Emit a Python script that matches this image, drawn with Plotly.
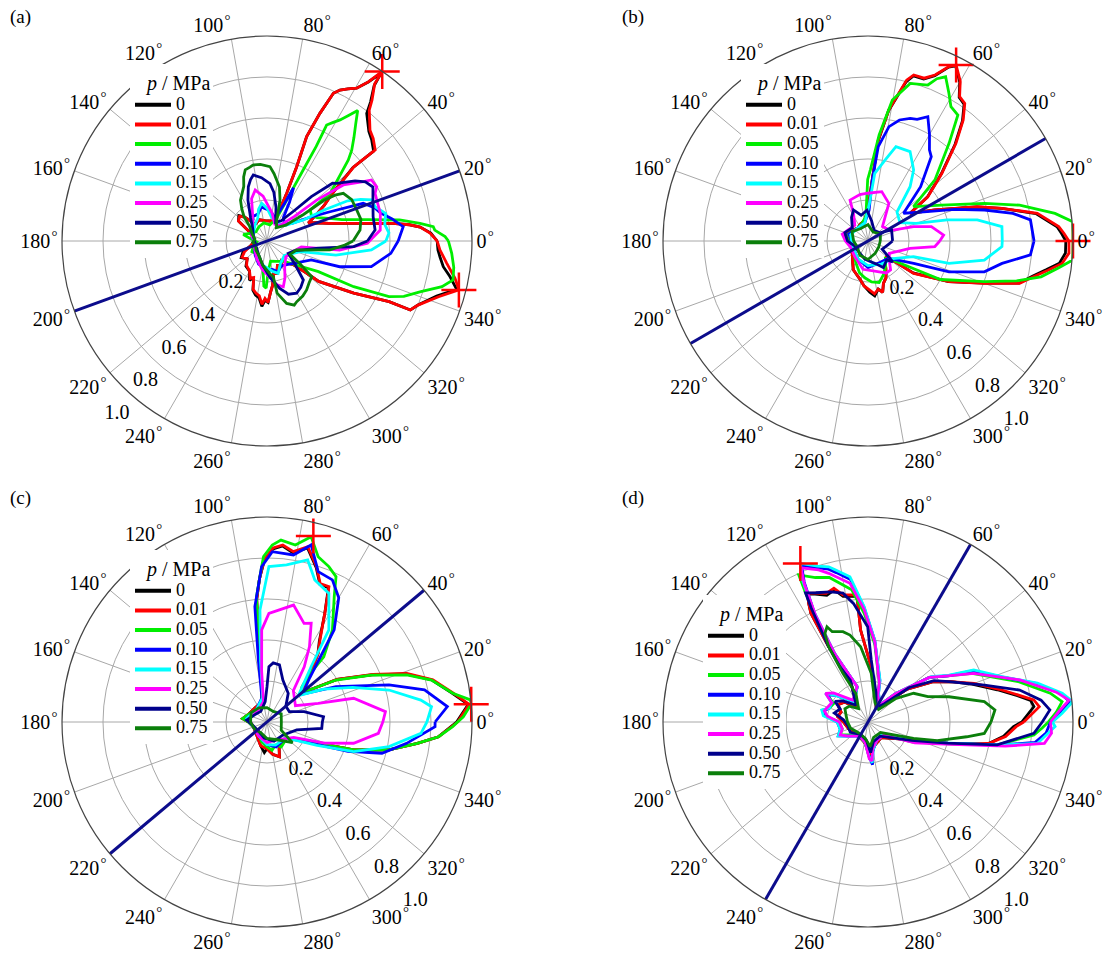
import plotly.graph_objects as go

FIG_W, FIG_H = 1120, 961

PRESSURES = ["0", "0.01", "0.05", "0.10", "0.15", "0.25", "0.50", "0.75"]
COLORS = ["#000000", "#ff0000", "#00ee00", "#0000ff", "#00ffff", "#ff00ff", "#00008b", "#0b7f0b"]

ANGLE_TICKS = list(range(0, 360, 20))
RADIAL_TICKS = [0.2, 0.4, 0.6, 0.8, 1.0]
RADIAL_LABELS = ["0.2", "0.4", "0.6", "0.8", "1.0"]

# ---------------- panel (a): (theta in degrees, normalised r) ----------------
A_0 = [(0,0.83),(2.8,0.80),(5.2,0.75),(6.5,0.70),(8,0.62),(9.3,0.534),(12,0.415),(16,0.313),(20,0.26),(23.5,0.22),(28.8,0.28),(32,0.33),(36,0.39),(40.5,0.55),(40.1,0.68),(44,0.71),(47.1,0.73),(52,0.79),(53.3,0.845),(55.4,0.92),(55.8,0.99),(57.5,0.92),(59.6,0.864),(62,0.84),(64.2,0.818),(65.8,0.79),(67.5,0.674),(69.2,0.545),(68.2,0.39),(67.6,0.252),(68,0.13),(75,0.10),(95,0.10),(110,0.11),(125,0.10),(133,0.16),(138,0.185),(145,0.17),(152,0.10),(165,0.07),(180,0.06),(195,0.08),(205,0.13),(213,0.15),(222,0.13),(230,0.16),(240,0.17),(246,0.21),(250,0.19),(254,0.25),(258,0.27),(262,0.28),(265.5,0.32),(268,0.29),(271,0.30),(274,0.25),(277,0.22),(282,0.16),(287,0.165),(293,0.13),(300,0.14),(307,0.12),(313,0.15),(318,0.17),(321,0.25),(322,0.32),(329,0.494),(333.6,0.665),(334.3,0.776),(337,0.80),(342,0.87),(345.7,0.955),(349,0.909),(351.7,0.869),(354.8,0.847),(357,0.835),(360,0.83)]
A_001 = [(0,0.83),(2.8,0.796),(5.2,0.75),(6.5,0.70),(8,0.62),(9.3,0.534),(12,0.415),(16,0.313),(20,0.26),(23.5,0.22),(28.8,0.284),(32,0.33),(36,0.395),(40.5,0.557),(40.1,0.69),(44,0.72),(47.1,0.738),(52,0.81),(53.3,0.857),(55.6,0.93),(55.8,1.0),(57.5,0.92),(59.6,0.864),(62,0.84),(64.2,0.818),(65.8,0.79),(67.5,0.674),(69.2,0.545),(68.2,0.39),(67.6,0.252),(68,0.13),(75,0.10),(95,0.10),(110,0.11),(125,0.10),(133,0.16),(138,0.18),(145,0.17),(152,0.10),(165,0.07),(180,0.06),(195,0.08),(205,0.12),(213,0.145),(222,0.13),(230,0.155),(240,0.17),(246,0.20),(250,0.19),(254,0.245),(258,0.26),(262,0.27),(265.5,0.31),(268,0.28),(271,0.30),(274,0.25),(277,0.22),(282,0.16),(287,0.165),(293,0.13),(300,0.14),(307,0.12),(313,0.15),(318,0.17),(321,0.25),(322,0.32),(329,0.494),(333.6,0.665),(334.3,0.776),(337,0.80),(342,0.88),(345.7,0.966),(348.8,0.935),(353,0.883),(357,0.845),(360,0.83)]
A_005 = [(0,0.885),(1.4,0.869),(3.7,0.82),(4.9,0.814),(6.6,0.751),(9,0.655),(12,0.50),(16,0.38),(20,0.322),(25,0.27),(30,0.25),(35.8,0.26),(37,0.386),(44.9,0.56),(47,0.606),(50,0.66),(53,0.72),(55.2,0.775),(57,0.73),(58.9,0.69),(61,0.66),(62.8,0.636),(62.5,0.52),(63,0.39),(64.3,0.22),(67,0.12),(80,0.08),(100,0.09),(120,0.08),(140,0.07),(155,0.09),(165,0.12),(172,0.08),(185,0.05),(200,0.07),(215,0.09),(230,0.08),(245,0.10),(255,0.12),(262,0.14),(266,0.22),(269,0.23),(272,0.15),(280,0.10),(295,0.11),(310,0.13),(320,0.18),(329.2,0.292),(332.2,0.478),(335.5,0.654),(338,0.72),(341.8,0.79),(345.4,0.882),(348.2,0.927),(352,0.92),(356.2,0.903),(360,0.885)]
A_010 = [(0,0.64),(6,0.668),(10,0.62),(14,0.57),(17,0.55),(21.4,0.504),(24.9,0.339),(28.7,0.246),(35,0.15),(45,0.12),(55,0.14),(60,0.22),(63.5,0.29),(65,0.20),(70,0.12),(85,0.15),(95,0.16),(99,0.17),(108,0.14),(120,0.137),(135,0.10),(150,0.09),(170,0.07),(190,0.06),(210,0.07),(230,0.09),(250,0.12),(262,0.13),(270,0.15),(280,0.14),(290,0.16),(300,0.14),(310,0.15),(320,0.17),(336.8,0.235),(340.5,0.376),(346.2,0.524),(354.3,0.607),(360,0.64)]
A_015 = [(0,0.58),(3.8,0.596),(8,0.58),(13.1,0.594),(17.6,0.553),(21.4,0.55),(24,0.50),(26.5,0.44),(28.5,0.32),(30,0.205),(40,0.12),(60,0.10),(80,0.12),(90,0.16),(98,0.186),(105,0.16),(112,0.12),(125,0.10),(145,0.08),(170,0.07),(200,0.06),(230,0.08),(260,0.12),(280,0.15),(289,0.167),(300,0.13),(320,0.11),(342.4,0.172),(348.5,0.343),(355.1,0.511),(360,0.58)]
A_025 = [(0,0.50),(5.5,0.555),(13.7,0.569),(23.8,0.576),(26.3,0.597),(30.3,0.59),(31.6,0.552),(36.3,0.462),(39.5,0.314),(42,0.18),(50,0.10),(65,0.09),(80,0.14),(95,0.22),(103,0.255),(110,0.22),(118,0.15),(135,0.10),(160,0.08),(180,0.06),(210,0.07),(240,0.10),(260,0.14),(275,0.18),(283,0.22),(289.6,0.237),(296,0.20),(305,0.15),(320,0.12),(340,0.14),(350,0.17),(352.9,0.357),(358.7,0.49),(360,0.50)]
A_050 = [(0,0.49),(5.8,0.53),(12.9,0.531),(20,0.55),(27,0.58),(31,0.56),(34.3,0.52),(39.6,0.441),(41.4,0.426),(45,0.306),(48,0.20),(55,0.12),(65,0.10),(75,0.17),(82,0.24),(87,0.28),(95,0.31),(101.7,0.329),(105,0.31),(109,0.28),(115,0.22),(125,0.14),(140,0.09),(160,0.07),(180,0.06),(210,0.06),(240,0.08),(260,0.12),(275,0.18),(285,0.24),(292,0.28),(299.6,0.293),(306,0.28),(313,0.26),(320,0.18),(330,0.12),(340,0.14),(352,0.253),(356.3,0.424),(360,0.49)]
A_075 = [(0,0.42),(6.7,0.457),(13,0.47),(19.1,0.463),(26,0.46),(32,0.439),(34,0.40),(35.5,0.34),(36,0.22),(40,0.12),(55,0.08),(65,0.113),(72.4,0.21),(77,0.27),(81,0.301),(84,0.33),(87.7,0.363),(95,0.375),(100.5,0.377),(103,0.37),(107,0.363),(110,0.333),(113,0.29),(118,0.26),(122.9,0.238),(128,0.20),(133.4,0.163),(140,0.11),(155,0.08),(170,0.06),(185,0.07),(200,0.06),(220,0.07),(240,0.08),(260,0.12),(275,0.16),(280,0.177),(281,0.259),(287.5,0.319),(293,0.34),(296,0.33),(303,0.32),(309,0.307),(315,0.29),(321.4,0.279),(325,0.20),(330,0.13),(343,0.15),(352,0.31),(357,0.38),(360,0.42)]

# ---------------- panel (b) ----------------
B_0 = [(0,0.965),(2.2,0.945),(4.3,0.925),(9.3,0.83),(13.7,0.67),(17.4,0.555),(25,0.36),(33.3,0.246),(36.5,0.36),(42.5,0.485),(48,0.635),(51.8,0.745),(54.9,0.815),(57.6,0.83),(60,0.895),(63.4,0.955),(65.1,0.935),(68,0.87),(71,0.835),(74.6,0.835),(76.5,0.80),(81,0.645),(84.2,0.49),(86.6,0.265),(90,0.15),(100,0.10),(115,0.09),(130,0.08),(150,0.10),(165,0.12),(175,0.10),(190,0.08),(205,0.09),(220,0.10),(235,0.13),(243,0.158),(250,0.17),(258,0.19),(265,0.22),(272,0.25),(277,0.27),(282,0.24),(286,0.26),(290,0.22),(296,0.20),(303,0.16),(310,0.13),(318,0.12),(322,0.151),(324.7,0.27),(333.3,0.44),(340,0.60),(344.4,0.765),(347.9,0.82),(350.8,0.88),(353.4,0.94),(356.5,0.965),(360,0.965)]
B_001 = [(0,0.98),(2.2,0.957),(4.3,0.933),(9.3,0.837),(13.7,0.673),(17.4,0.559),(25,0.36),(33.3,0.246),(36.5,0.363),(42.5,0.489),(48,0.641),(51.8,0.751),(54.9,0.821),(57.6,0.834),(60,0.90),(63.4,0.96),(65.1,0.938),(68,0.873),(71,0.84),(74.6,0.84),(76.5,0.807),(81,0.647),(84.2,0.495),(86.6,0.265),(90,0.15),(100,0.10),(115,0.09),(130,0.08),(150,0.10),(165,0.12),(175,0.10),(190,0.08),(205,0.09),(220,0.10),(235,0.13),(243,0.158),(250,0.17),(258,0.19),(265,0.22),(272,0.24),(277,0.26),(282,0.24),(286,0.26),(290,0.22),(296,0.20),(303,0.16),(310,0.13),(318,0.12),(322,0.151),(324.7,0.273),(333.3,0.442),(340,0.604),(344.4,0.768),(347.9,0.828),(350.8,0.89),(353.4,0.953),(356.5,0.982),(360,0.98)]
B_005 = [(0,1.0),(5.4,1.003),(8.4,0.922),(13.3,0.76),(17.9,0.597),(26,0.40),(37,0.278),(42.4,0.442),(50.3,0.619),(54.5,0.755),(58.3,0.77),(61.3,0.822),(64.7,0.886),(67,0.86),(69,0.815),(75,0.796),(80.2,0.698),(84,0.52),(88,0.35),(90.3,0.30),(95,0.12),(110,0.09),(130,0.08),(150,0.09),(165,0.11),(180,0.09),(200,0.08),(220,0.09),(240,0.12),(255,0.16),(265,0.18),(275,0.20),(285,0.21),(295,0.18),(305,0.15),(315,0.12),(323,0.16),(332,0.40),(340.7,0.60),(345,0.75),(348.3,0.862),(352,0.94),(354.7,1.003),(360,1.0)]
B_010 = [(0,0.81),(7.4,0.799),(10.8,0.719),(14.9,0.588),(20,0.45),(30,0.28),(38,0.22),(45.9,0.369),(53.1,0.514),(56,0.536),(60,0.60),(64.3,0.673),(68,0.64),(71,0.633),(75.4,0.61),(79.6,0.567),(83.8,0.463),(86,0.30),(88,0.15),(100,0.09),(130,0.08),(160,0.10),(180,0.08),(210,0.08),(240,0.10),(270,0.13),(300,0.12),(320,0.13),(333.9,0.248),(339.2,0.423),(345.2,0.587),(350.5,0.663),(355.1,0.795),(360,0.81)]
B_015 = [(0,0.655),(6.1,0.657),(10.9,0.543),(15,0.40),(20,0.25),(30,0.18),(45,0.20),(52.2,0.335),(57.3,0.412),(64.8,0.482),(73.5,0.48),(78,0.404),(84.3,0.332),(88,0.18),(100,0.09),(130,0.08),(160,0.09),(200,0.08),(240,0.10),(270,0.12),(300,0.13),(325,0.15),(341,0.235),(344.6,0.41),(350.7,0.575),(357.6,0.654),(360,0.655)]
B_025 = [(0,0.35),(4.5,0.37),(12.7,0.317),(17.4,0.233),(25,0.12),(45,0.10),(61,0.21),(74.4,0.25),(90.5,0.233),(100,0.23),(113.7,0.218),(118,0.15),(130,0.10),(150,0.11),(165,0.13),(180,0.11),(200,0.09),(230,0.10),(260,0.14),(290,0.16),(300,0.18),(308,0.179),(318,0.14),(330,0.12),(350.1,0.208),(355.1,0.327),(360,0.35)]
B_050 = [(0,0.12),(10.6,0.12),(25,0.127),(35,0.07),(60,0.06),(80,0.10),(92,0.15),(105,0.13),(115,0.167),(125,0.14),(140,0.10),(160,0.12),(180,0.10),(200,0.07),(230,0.07),(260,0.09),(290,0.12),(300,0.15),(314.5,0.13),(320,0.158),(330,0.08),(350,0.10),(360,0.12)]
B_075 = [(0,0.06),(30,0.07),(60,0.05),(90,0.08),(120,0.07),(150,0.09),(180,0.07),(210,0.06),(240,0.08),(270,0.09),(300,0.07),(330,0.06),(360,0.06)]

# ---------------- panel (c) ----------------
C_0 = [(0,0.925),(5,0.985),(8.8,0.915),(14.3,0.83),(19.2,0.715),(24.2,0.56),(31.3,0.40),(40,0.22),(47,0.30),(53.3,0.415),(57.1,0.47),(62,0.60),(65.4,0.72),(69,0.72),(72.3,0.79),(76.9,0.872),(81.2,0.835),(84.9,0.862),(88,0.845),(91,0.785),(93,0.70),(94.8,0.60),(96,0.40),(98,0.20),(105,0.10),(130,0.09),(160,0.10),(172,0.12),(180,0.09),(200,0.07),(230,0.08),(255,0.12),(265,0.15),(270,0.13),(280,0.16),(289.7,0.18),(295,0.14),(310,0.12),(320,0.12),(337.5,0.27),(342.1,0.444),(347.1,0.61),(351.9,0.741),(355.1,0.84),(360,0.925)]
C_001 = [(0,0.93),(5,0.99),(8.8,0.92),(14.3,0.835),(19.2,0.722),(24.2,0.565),(31.3,0.40),(40,0.22),(47,0.30),(53.3,0.418),(57.1,0.476),(62,0.60),(65.4,0.726),(69,0.724),(72.3,0.795),(76.9,0.878),(81.2,0.841),(84.9,0.867),(88,0.85),(91,0.79),(93,0.70),(94.8,0.60),(96,0.40),(98,0.20),(105,0.10),(130,0.09),(160,0.10),(172,0.12),(180,0.09),(200,0.07),(230,0.08),(255,0.12),(270,0.13),(280,0.16),(289.7,0.18),(295,0.14),(310,0.12),(320,0.12),(337.5,0.27),(342.1,0.444),(347.1,0.61),(351.9,0.741),(355.1,0.84),(360,0.93)]
C_005 = [(0,0.93),(1.5,0.958),(5,1.0),(6.2,0.998),(8.8,0.917),(14.3,0.828),(18.6,0.719),(24.2,0.558),(31.3,0.394),(40.5,0.216),(45,0.24),(48.1,0.297),(49,0.422),(54.6,0.551),(61.8,0.694),(64.6,0.785),(68.3,0.816),(72.8,0.844),(76.6,0.929),(80.9,0.874),(85.6,0.89),(88.3,0.864),(91.2,0.807),(92.8,0.71),(94.8,0.613),(96,0.40),(98,0.20),(105,0.10),(130,0.08),(160,0.10),(172,0.12),(180,0.09),(200,0.07),(230,0.07),(255,0.10),(270,0.12),(280,0.14),(290,0.12),(300,0.14),(310,0.13),(320,0.12),(337.5,0.271),(342.1,0.444),(347.1,0.61),(351.9,0.741),(355.1,0.84),(358.6,0.906),(360,0.93)]
C_010 = [(0,0.82),(4.9,0.883),(11.5,0.784),(16.9,0.622),(27.1,0.378),(38,0.22),(46,0.30),(53.9,0.556),(60,0.70),(65.3,0.763),(71.2,0.775),(76,0.89),(81,0.825),(88.2,0.831),(92,0.758),(96,0.566),(98,0.30),(102,0.12),(130,0.08),(170,0.10),(200,0.07),(240,0.08),(270,0.11),(290,0.13),(320,0.12),(335,0.25),(340,0.42),(344.8,0.581),(351.3,0.689),(358.4,0.82),(360,0.82)]
C_015 = [(0,0.78),(5.3,0.806),(8.1,0.758),(14.7,0.615),(22,0.45),(30,0.32),(40,0.20),(51.4,0.345),(56.1,0.541),(64.3,0.696),(71.4,0.731),(75.9,0.815),(82.9,0.772),(89.3,0.758),(93.6,0.547),(96,0.30),(100,0.12),(130,0.08),(170,0.10),(200,0.07),(240,0.08),(270,0.11),(290,0.12),(320,0.12),(335,0.27),(341.1,0.447),(348.6,0.607),(355.8,0.753),(360,0.78)]
C_025 = [(0,0.565),(5,0.58),(15.3,0.438),(20,0.266),(30,0.16),(50,0.20),(56,0.325),(60.6,0.422),(65.9,0.528),(69.4,0.514),(77.2,0.585),(83.7,0.55),(89,0.53),(93.3,0.45),(96,0.25),(100,0.10),(130,0.07),(170,0.09),(200,0.07),(240,0.08),(270,0.10),(300,0.10),(330,0.15),(340,0.30),(346.2,0.435),(354.2,0.546),(360,0.565)]
C_050 = [(0,0.27),(5.4,0.277),(15.5,0.188),(25,0.12),(40,0.12),(53.5,0.174),(69.3,0.219),(77.7,0.285),(84,0.29),(88,0.27),(90,0.172),(95,0.10),(120,0.06),(150,0.07),(175,0.10),(185,0.08),(220,0.06),(260,0.08),(290,0.10),(320,0.10),(345,0.15),(353.4,0.269),(360,0.27)]
C_075 = [(0,0.07),(30,0.08),(60,0.06),(90,0.07),(120,0.08),(150,0.09),(180,0.08),(210,0.07),(240,0.06),(270,0.08),(300,0.10),(321,0.16),(330,0.08),(360,0.07)]

# ---------------- panel (d) ----------------
D_0 = [(0,0.75),(5.3,0.813),(7.6,0.80),(10,0.74),(14,0.65),(20,0.54),(26,0.45),(32,0.37),(40,0.25),(48,0.12),(60,0.08),(75,0.14),(86.7,0.27),(94.6,0.45),(95,0.615),(101.2,0.625),(104.3,0.665),(108,0.65),(112.5,0.675),(115.2,0.69),(116.5,0.65),(117.7,0.599),(117.6,0.414),(113,0.223),(125,0.09),(140,0.15),(150,0.17),(160,0.14),(170,0.15),(180,0.12),(200,0.10),(230,0.08),(260,0.10),(275,0.17),(285,0.12),(310,0.10),(337,0.22),(345,0.40),(350,0.60),(354,0.665),(358.2,0.71),(360,0.75)]
D_001 = [(0,0.76),(5.1,0.839),(7.6,0.816),(10,0.75),(14,0.66),(20,0.55),(26,0.45),(32,0.37),(40,0.25),(48,0.12),(60,0.08),(75,0.14),(86.7,0.27),(94.6,0.45),(95,0.622),(101.2,0.632),(104.3,0.673),(108,0.66),(112.5,0.68),(115.2,0.694),(116.5,0.65),(117.7,0.599),(117.6,0.414),(113,0.223),(125,0.09),(140,0.15),(150,0.17),(160,0.14),(170,0.15),(180,0.12),(200,0.10),(230,0.08),(260,0.10),(275,0.16),(285,0.12),(310,0.10),(337,0.22),(345,0.40),(350,0.60),(354,0.675),(358.2,0.723),(360,0.76)]
D_005 = [(0,0.88),(3,0.92),(6,0.952),(9,0.90),(15,0.76),(25,0.56),(30,0.45),(36,0.37),(46,0.19),(55,0.10),(70,0.14),(74,0.20),(85,0.38),(92,0.53),(97,0.65),(105,0.73),(110,0.75),(115.2,0.793),(115.8,0.70),(116.5,0.57),(116,0.36),(107,0.18),(125,0.12),(140,0.21),(146,0.24),(152,0.19),(160,0.20),(165.5,0.23),(172,0.21),(180,0.14),(195,0.13),(205,0.15),(215,0.11),(240,0.08),(262,0.10),(272,0.17),(276,0.19),(280,0.13),(295,0.10),(320,0.10),(336,0.24),(345,0.41),(350,0.64),(355.5,0.812),(358,0.85),(360,0.88)]
D_010 = [(0,0.89),(3,0.94),(5.7,0.99),(8.4,0.95),(13,0.84),(19,0.68),(26,0.57),(30,0.45),(36,0.37),(46,0.19),(55,0.10),(70,0.15),(74,0.21),(85.3,0.40),(92,0.56),(97,0.70),(102,0.745),(104.5,0.77),(108,0.79),(113,0.83),(114.5,0.75),(116.2,0.59),(116,0.37),(107,0.18),(125,0.12),(140,0.20),(146,0.24),(152,0.20),(160,0.20),(165.5,0.22),(172,0.21),(180,0.15),(195,0.14),(205,0.16),(215,0.12),(240,0.08),(262,0.10),(272,0.17),(276,0.21),(280,0.14),(295,0.10),(320,0.09),(336.6,0.24),(345.3,0.41),(350.3,0.66),(353,0.82),(356.4,0.87),(360,0.89)]
D_015 = [(0,0.90),(2.6,0.948),(5.7,1.004),(8.4,0.958),(12.9,0.848),(18.7,0.69),(26.2,0.575),(30.1,0.457),(35.6,0.38),(45.8,0.195),(55,0.10),(70,0.15),(74,0.213),(85.3,0.401),(91.9,0.563),(97.1,0.714),(102,0.758),(104.2,0.781),(108,0.80),(113.1,0.841),(114.8,0.76),(116.2,0.59),(116,0.37),(107,0.18),(125,0.12),(140,0.20),(146,0.25),(152,0.20),(160,0.20),(165.5,0.233),(172,0.22),(180,0.15),(195,0.14),(205,0.16),(215,0.12),(240,0.08),(262,0.10),(272,0.17),(276,0.20),(280,0.14),(295,0.10),(320,0.09),(336.6,0.242),(345.3,0.408),(350.3,0.663),(352.8,0.833),(356.4,0.88),(358.6,0.913),(360,0.90)]
D_025 = [(0,0.89),(3,0.93),(6.2,0.986),(9,0.93),(15.5,0.768),(24.7,0.568),(30,0.45),(36,0.37),(46,0.19),(55,0.10),(70,0.14),(74,0.20),(85,0.39),(92,0.55),(97.4,0.682),(104.8,0.75),(108,0.78),(113.5,0.82),(114.8,0.74),(116.2,0.58),(116,0.37),(107,0.18),(125,0.13),(140,0.22),(146,0.25),(152,0.20),(160,0.21),(165.5,0.22),(172,0.20),(180,0.14),(195,0.13),(205,0.15),(215,0.12),(240,0.08),(262,0.10),(272,0.18),(276,0.19),(280,0.13),(295,0.10),(320,0.10),(336,0.25),(345,0.42),(350,0.68),(353.1,0.867),(356.5,0.897),(360,0.89)]
D_050 = [(0,0.85),(3.8,0.889),(7.2,0.851),(11.9,0.756),(17.6,0.596),(26.5,0.441),(32,0.38),(40,0.26),(48,0.12),(60,0.08),(75,0.15),(87,0.303),(90.2,0.465),(97,0.583),(101,0.64),(106,0.66),(112,0.68),(115.8,0.70),(116.5,0.62),(117.6,0.42),(117,0.30),(113,0.22),(125,0.10),(140,0.16),(148,0.19),(155,0.15),(165,0.17),(175,0.12),(190,0.10),(210,0.10),(240,0.07),(265,0.09),(275,0.15),(285,0.10),(310,0.09),(337,0.23),(345,0.40),(350,0.64),(356.1,0.811),(360,0.85)]
D_075 = [(0,0.60),(5.4,0.622),(9.9,0.576),(17.3,0.414),(22.9,0.317),(32.2,0.263),(40,0.18),(50,0.08),(70,0.10),(86.2,0.238),(95.6,0.369),(101.7,0.433),(105.5,0.457),(111.6,0.474),(113.3,0.506),(116,0.48),(117.6,0.414),(117.3,0.267),(113,0.15),(125,0.08),(140,0.12),(150,0.13),(165,0.11),(180,0.10),(200,0.09),(230,0.07),(260,0.08),(275,0.12),(290,0.08),(320,0.08),(340.3,0.236),(345,0.35),(351.5,0.487),(354.4,0.57),(360,0.60)]

# red crosses at the lobe maxima
PEAK_THETA = [[55.8, 345.7], [63.4, 0.0], [76.0, 5.0], [113.1, 5.7]]
PEAK_R = [[1.0, 0.966], [0.96, 1.0], [0.935, 1.0], [0.841, 1.004]]

# direction of the reference line drawn across each rose
LINE_ANGLE = [20, 30, 40, 60]

PANEL_LETTERS = ["(a)", "(b)", "(c)", "(d)"]
PANEL_SERIES = [
    [A_0, A_001, A_005, A_010, A_015, A_025, A_050, A_075],
    [B_0, B_001, B_005, B_010, B_015, B_025, B_050, B_075],
    [C_0, C_001, C_005, C_010, C_015, C_025, C_050, C_075],
    [D_0, D_001, D_005, D_010, D_015, D_025, D_050, D_075],
]

# ---------------- layout geometry (pixels) ----------------
CENTERS = [(267, 241), (868, 241), (267, 722), (868, 722)]
RADIUS = 205
RADIAL_LABEL_ANGLE = [229, 311, 311, 311]
# radial tick labels sit just outside their circles: they are drawn by a
# label-only polar frame, slightly enlarged and nudged from the main one
LABEL_FRAME_SCALE = 1.06
LABEL_FRAME_SHIFT = [(13, 11), (26, 3), (26, 3), (26, 3)]
LEGEND_TOPLEFT = [(130, 64), (741, 64), (130, 550), (703, 595)]
LETTER_POS = [(20, 17), (633, 17), (20, 498), (633, 498)]

FONT = "Liberation Serif"
DEGREE = '<span style="font-size:15px;baseline-shift:45%">&#8202;°</span>'


def px_x(x):
    return x / FIG_W


def px_y(y):
    return 1 - y / FIG_H


def norm180(a):
    return (a + 180) % 360 - 180


def domain_for(cx, cy, rad):
    return dict(x=[px_x(cx - rad), px_x(cx + rad)], y=[px_y(cy + rad), px_y(cy - rad)])


fig = go.Figure()
layout = {}
tick_font = dict(family=FONT, size=20, color="black")

for i in range(4):
    sid = "polar" if i == 0 else f"polar{i + 1}"
    lab_sid = f"polar{i + 5}"
    lid = "legend" if i == 0 else f"legend{i + 1}"

    for name, color, pts in zip(PRESSURES, COLORS, PANEL_SERIES[i]):
        fig.add_trace(go.Scatterpolar(
            theta=[p[0] for p in pts], r=[p[1] for p in pts],
            mode="lines", line=dict(color=color, width=2.8),
            showlegend=False, subplot=sid,
        ))

    # legend keys, drawn with a heavier stroke than the curves
    for name, color in zip(PRESSURES, COLORS):
        fig.add_trace(go.Scatterpolar(
            theta=[None], r=[None], mode="lines",
            line=dict(color=color, width=4),
            name=f'<span style="font-size:18px">{name}</span>',
            subplot=sid, legend=lid, hoverinfo="skip",
        ))

    a = LINE_ANGLE[i]
    fig.add_trace(go.Scatterpolar(
        theta=[a, a + 180], r=[1, 1], mode="lines",
        line=dict(color="#0c0c8c", width=3), showlegend=False, subplot=sid,
    ))
    fig.add_trace(go.Scatterpolar(
        theta=PEAK_THETA[i], r=PEAK_R[i], mode="markers",
        marker=dict(symbol="cross-thin", size=25, color="red",
                    line=dict(color="red", width=2.5)),
        showlegend=False, subplot=sid, cliponaxis=False,
    ))
    # placeholder so the label-only frame is created
    fig.add_trace(go.Scatterpolar(
        theta=[0], r=[0], mode="markers", marker=dict(size=1, color="rgba(0,0,0,0)"),
        showlegend=False, hoverinfo="skip", subplot=lab_sid,
    ))

    cx, cy = CENTERS[i]
    ra = RADIAL_LABEL_ANGLE[i]
    layout[sid] = dict(
        domain=domain_for(cx, cy, RADIUS),
        bgcolor="white",
        angularaxis=dict(
            rotation=0, direction="counterclockwise",
            tickmode="array", tickvals=ANGLE_TICKS,
            ticktext=[f"{v}{DEGREE}" for v in ANGLE_TICKS],
            showgrid=True, gridcolor="#a8a8a8", gridwidth=1,
            showline=True, linecolor="#444444", linewidth=1.2,
            ticks="", tickfont=tick_font,
        ),
        radialaxis=dict(
            range=[0, 1], tickmode="array", tickvals=RADIAL_TICKS,
            showticklabels=False, angle=ra,
            showline=False, showgrid=True, gridcolor="#a8a8a8", gridwidth=1,
            ticks="",
        ),
    )

    sx, sy = LABEL_FRAME_SHIFT[i]
    layout[lab_sid] = dict(
        domain=domain_for(cx + sx, cy + sy, RADIUS * LABEL_FRAME_SCALE),
        bgcolor="rgba(0,0,0,0)",
        angularaxis=dict(visible=False, showgrid=False, showline=False,
                         showticklabels=False, ticks=""),
        radialaxis=dict(
            range=[0, 1], tickmode="array", tickvals=RADIAL_TICKS,
            ticktext=RADIAL_LABELS, angle=ra, tickangle=norm180(ra),
            showline=False, showgrid=False, ticks="", tickfont=tick_font,
        ),
    )

    lx, ly = LEGEND_TOPLEFT[i]
    layout[lid] = dict(
        x=px_x(lx), y=px_y(ly), xanchor="left", yanchor="top",
        bgcolor="white", borderwidth=0, itemwidth=36,
        font=dict(family=FONT, size=12.8, color="black"),
        title=dict(text="&nbsp;&nbsp;&nbsp;<i>p</i> / MPa",
                   font=dict(family=FONT, size=20, color="black")),
        tracegroupgap=0,
    )

annotations = []
for letter, (x, y) in zip(PANEL_LETTERS, LETTER_POS):
    annotations.append(dict(
        text=letter, x=px_x(x), y=px_y(y), xref="paper", yref="paper",
        xanchor="center", yanchor="middle",
        showarrow=False, font=dict(family=FONT, size=19, color="black"),
    ))

fig.update_layout(
    width=FIG_W, height=FIG_H,
    margin=dict(l=0, r=0, t=0, b=0),
    paper_bgcolor="white", plot_bgcolor="white",
    font=dict(family=FONT, color="black"),
    annotations=annotations,
    **layout,
)

fig.write_html("out.html")
